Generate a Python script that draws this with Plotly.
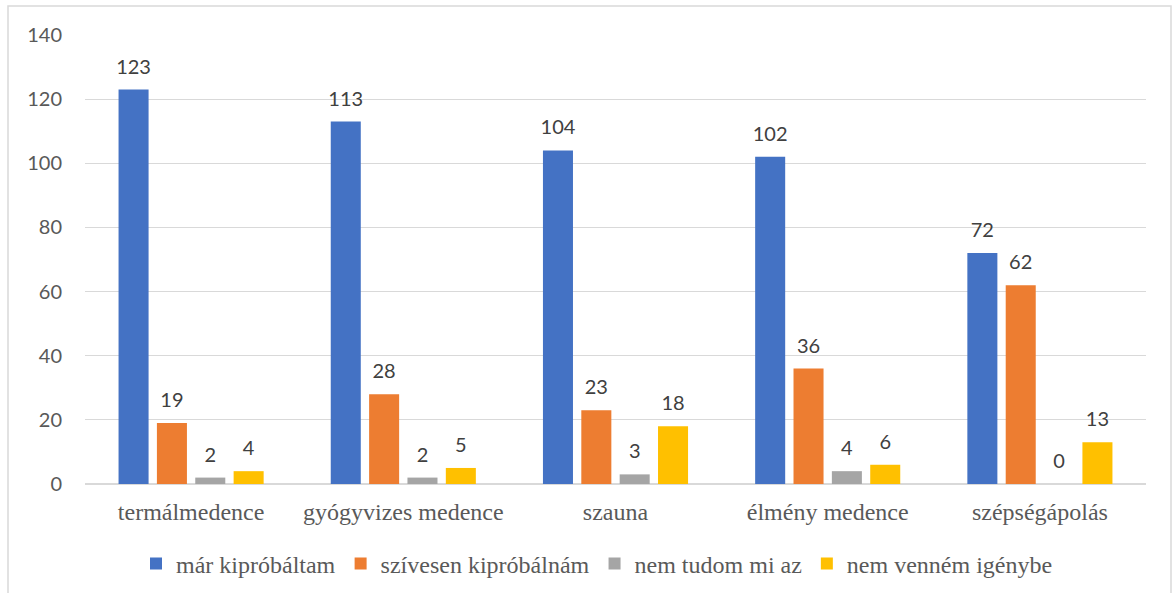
import plotly.graph_objects as go

categories = ["termálmedence", "gyógyvizes medence", "szauna", "élmény medence", "szépségápolás"]
mar_kiprobaltam = [123, 113, 104, 102, 72]
szivesen_kiprobalnam = [19, 28, 23, 36, 62]
nem_tudom = [2, 2, 3, 4, 0]
nem_vennem = [4, 5, 18, 6, 13]

series = [
    ("már kipróbáltam", mar_kiprobaltam, "#4472C4"),
    ("szívesen kipróbálnám", szivesen_kiprobalnam, "#ED7D31"),
    ("nem tudom mi az", nem_tudom, "#A5A5A5"),
    ("nem venném igénybe", nem_vennem, "#FFC000"),
]

SERIF = "Times New Roman"
SANS = "Lato"
GAP = 0.277

fig = go.Figure()
for name, vals, color in series:
    fig.add_trace(go.Bar(
        x=categories, y=vals, name=name,
        marker=dict(color=color, line=dict(width=0)),
    ))
# value labels, grouped the same way as the bars
for name, vals, color in series:
    fig.add_trace(go.Scatter(
        x=categories, y=vals, mode="markers+text", showlegend=False,
        text=vals, textposition="top center", cliponaxis=False,
        marker=dict(size=16, opacity=0), hoverinfo="skip",
        textfont=dict(family=SANS, size=20, color="#404040"),
    ))

W, H = 1176, 593
L, R, T, B = 85, 30, 35, 109
pw, ph = W - L - R, H - T - B

def px_x(p):
    return (p - L) / pw

def px_y(p):
    return (H - B - p) / ph

fig.update_layout(
    width=W, height=H,
    margin=dict(l=L, r=R, t=T, b=B, autoexpand=False),
    paper_bgcolor="white", plot_bgcolor="white",
    barmode="group", bargap=GAP, bargroupgap=0.217,
    scattermode="group", scattergap=GAP,
    showlegend=True,
    legend=dict(orientation="h", x=px_x(597), xanchor="center", y=px_y(564), yanchor="middle",
                font=dict(family=SERIF, size=24, color="#595959"),
                traceorder="normal"),
    xaxis=dict(showgrid=False, showline=False, ticks="", ticklabelstandoff=11, automargin=False,
               tickfont=dict(family=SERIF, size=24, color="#595959")),
    yaxis=dict(range=[0, 140], dtick=20, showgrid=True, gridcolor="#D9D9D9", gridwidth=1,
               zeroline=True, zerolinecolor="#D9D9D9", zerolinewidth=1.5, showline=False,
               ticks="", ticklabelstandoff=22, automargin=False,
               tickfont=dict(family=SANS, size=20, color="#595959")),
    shapes=[dict(type="rect", xref="paper", yref="paper",
                 x0=px_x(8), x1=px_x(1171), y0=px_y(620), y1=px_y(6),
                 line=dict(color="#D9D9D9", width=1.5), fillcolor="rgba(0,0,0,0)", layer="below")],
)

fig.write_html("out.html", config={"displayModeBar": False},
               post_script="document.body.style.margin='0';")
